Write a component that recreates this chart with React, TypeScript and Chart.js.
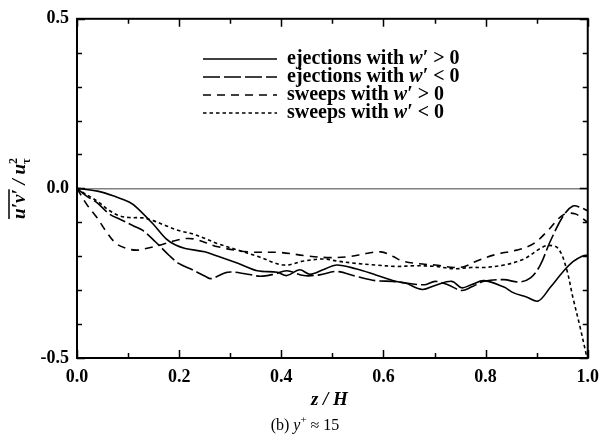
import { useEffect, useRef } from 'react';
import { Chart, registerables } from 'chart.js';

Chart.register(...registerables);

// ejections with w' > 0 (solid)
const zEjPos = [0, 0.04, 0.077, 0.102, 0.116, 0.149, 0.174, 0.193, 0.212, 0.25, 0.276, 0.315, 0.353, 0.392, 0.411, 0.436, 0.456, 0.483, 0.508, 0.546, 0.585, 0.624, 0.643, 0.676, 0.701, 0.734, 0.753, 0.772, 0.797, 0.836, 0.855, 0.88, 0.903, 0.926, 0.952, 0.971, 0.99, 1.0];
const vEjPos = [0, -0.008, -0.025, -0.04, -0.055, -0.105, -0.148, -0.167, -0.177, -0.187, -0.2, -0.221, -0.243, -0.247, -0.257, -0.24, -0.253, -0.239, -0.226, -0.237, -0.255, -0.274, -0.279, -0.298, -0.286, -0.274, -0.293, -0.284, -0.272, -0.291, -0.308, -0.32, -0.332, -0.293, -0.245, -0.216, -0.199, -0.197];

// ejections with w' < 0 (long dash)
const zEjNeg = [0, 0.019, 0.039, 0.064, 0.083, 0.11, 0.129, 0.154, 0.18, 0.199, 0.226, 0.251, 0.263, 0.295, 0.334, 0.359, 0.386, 0.411, 0.444, 0.475, 0.508, 0.546, 0.585, 0.618, 0.643, 0.681, 0.701, 0.726, 0.753, 0.772, 0.797, 0.836, 0.865, 0.888, 0.907, 0.926, 0.952, 0.971, 0.987, 1.0];
const vEjNeg = [0, -0.023, -0.042, -0.076, -0.09, -0.11, -0.124, -0.158, -0.197, -0.221, -0.24, -0.259, -0.266, -0.247, -0.253, -0.259, -0.253, -0.243, -0.257, -0.255, -0.245, -0.259, -0.272, -0.274, -0.279, -0.284, -0.274, -0.284, -0.301, -0.291, -0.274, -0.269, -0.276, -0.264, -0.226, -0.158, -0.081, -0.052, -0.057, -0.066];

// sweeps with w' > 0 (medium dash)
const zSwPos = [0, 0.019, 0.039, 0.058, 0.077, 0.097, 0.116, 0.135, 0.16, 0.187, 0.212, 0.232, 0.276, 0.334, 0.398, 0.45, 0.494, 0.533, 0.566, 0.595, 0.618, 0.637, 0.668, 0.701, 0.739, 0.759, 0.784, 0.822, 0.861, 0.894, 0.919, 0.952, 0.975, 1.0];
const vSwPos = [0, -0.047, -0.086, -0.129, -0.163, -0.177, -0.182, -0.177, -0.168, -0.156, -0.148, -0.15, -0.172, -0.187, -0.189, -0.199, -0.204, -0.201, -0.192, -0.187, -0.2, -0.214, -0.222, -0.226, -0.233, -0.23, -0.213, -0.194, -0.182, -0.163, -0.129, -0.078, -0.075, -0.1];

// sweeps with w' < 0 (dotted)
const zSwNeg = [0, 0.013, 0.039, 0.064, 0.083, 0.102, 0.129, 0.149, 0.174, 0.199, 0.226, 0.251, 0.276, 0.315, 0.353, 0.405, 0.444, 0.483, 0.508, 0.546, 0.585, 0.624, 0.662, 0.701, 0.739, 0.772, 0.797, 0.836, 0.875, 0.907, 0.923, 0.942, 0.958, 0.971, 0.985, 0.998];
const vSwNeg = [0, -0.013, -0.037, -0.066, -0.081, -0.086, -0.087, -0.095, -0.11, -0.124, -0.134, -0.148, -0.163, -0.182, -0.2, -0.226, -0.214, -0.208, -0.214, -0.221, -0.226, -0.23, -0.228, -0.23, -0.237, -0.233, -0.233, -0.226, -0.208, -0.177, -0.168, -0.177, -0.235, -0.322, -0.409, -0.496];

const legendPrefix = ['ejections with ', 'ejections with ', 'sweeps with ', 'sweeps with '];
const legendSign = [' > 0', ' < 0', ' > 0', ' < 0'];
const dashes: number[][] = [[], [17, 4], [8, 6], [3.5, 3]];

const xTitle = 'z / H';
const subtitleParts = ['(b) ', 'y', '+', ' ≈ 15'];

const SERIF = '"Liberation Serif", "Times New Roman", serif';

function toPoints(zs: number[], vs: number[]) {
  return zs.map((z, i) => ({ x: z, y: vs[i] }));
}

const decorPlugin = {
  id: 'decor',
  afterDatasetsDraw(chart: any) {
    const { ctx, chartArea: a, scales } = chart;
    const x = scales.x;
    const y = scales.y;
    ctx.save();
    // frame
    ctx.strokeStyle = '#000';
    ctx.lineWidth = 2;
    ctx.setLineDash([]);
    ctx.strokeRect(a.left, a.top, a.right - a.left, a.bottom - a.top);
    // inward ticks
    ctx.lineWidth = 1.5;
    ctx.beginPath();
    x.ticks.forEach((t: any) => {
      const px = Math.round(x.getPixelForValue(t.value)) + 0.5;
      const major = Math.round(t.value * 10) % 2 === 0;
      const len = major ? 8 : 5;
      ctx.moveTo(px, a.bottom);
      ctx.lineTo(px, a.bottom - len);
      ctx.moveTo(px, a.top);
      ctx.lineTo(px, a.top + len);
    });
    y.ticks.forEach((t: any) => {
      const py = Math.round(y.getPixelForValue(t.value)) + 0.5;
      const major = Math.round(t.value * 10) % 5 === 0;
      const len = major ? 8 : 5;
      ctx.moveTo(a.left, py);
      ctx.lineTo(a.left + len, py);
      ctx.moveTo(a.right, py);
      ctx.lineTo(a.right - len, py);
    });
    ctx.stroke();

    // legend
    const rowY = [59, 77, 95, 113];
    chart.data.datasets.forEach((ds: any, i: number) => {
      const yy = rowY[i];
      ctx.save();
      ctx.strokeStyle = ds.borderColor;
      ctx.lineWidth = ds.borderWidth;
      ctx.setLineDash(ds.borderDash || []);
      ctx.beginPath();
      ctx.moveTo(203, yy);
      ctx.lineTo(277, yy);
      ctx.stroke();
      ctx.restore();
      ctx.fillStyle = '#000';
      ctx.textBaseline = 'middle';
      ctx.textAlign = 'left';
      let xx = 287;
      const runs: [string, string][] = [
        [legendPrefix[i], `bold 20px ${SERIF}`],
        ['w′', `italic bold 20px ${SERIF}`],
        [legendSign[i], `bold 20px ${SERIF}`],
      ];
      runs.forEach(([t, f]) => {
        ctx.font = f;
        ctx.fillText(t, xx, yy);
        xx += ctx.measureText(t).width;
      });
    });

    // x title
    ctx.font = `italic bold 19px ${SERIF}`;
    ctx.textAlign = 'center';
    ctx.textBaseline = 'alphabetic';
    ctx.fillText(xTitle, (a.left + a.right) / 2 - 3, 405);

    // subtitle
    {
      const runs: [string, string, number][] = [
        [subtitleParts[0], `16px ${SERIF}`, 0],
        [subtitleParts[1], `italic 16px ${SERIF}`, 0],
        [subtitleParts[2], `11px ${SERIF}`, -7],
        [subtitleParts[3], `16px ${SERIF}`, 0],
      ];
      let w = 0;
      runs.forEach(([t, f]) => { ctx.font = f; w += ctx.measureText(t).width; });
      let xx = 305 - w / 2;
      ctx.textAlign = 'left';
      runs.forEach(([t, f, dy]) => {
        ctx.font = f;
        ctx.fillText(t, xx, 430 + dy);
        xx += ctx.measureText(t).width;
      });
    }

    // y title (rotated)
    {
      ctx.save();
      ctx.translate(20, (a.top + a.bottom) / 2);
      ctx.rotate(-Math.PI / 2);
      ctx.textAlign = 'left';
      ctx.textBaseline = 'alphabetic';
      const big = `italic bold 19px ${SERIF}`;
      const small = `bold 12px ${SERIF}`;
      ctx.font = big;
      const w1 = ctx.measureText('u′v′').width;
      const w2 = ctx.measureText(' / u').width;
      ctx.font = small;
      const w3 = Math.max(ctx.measureText('τ').width, ctx.measureText('2').width);
      const total = w1 + w2 + w3;
      let xx = -total / 2;
      ctx.font = big;
      ctx.fillText('u′v′', xx, 5);
      ctx.lineWidth = 1.5;
      ctx.beginPath();
      ctx.moveTo(xx, -11);
      ctx.lineTo(xx + w1, -11);
      ctx.stroke();
      xx += w1;
      ctx.fillText(' / u', xx, 5);
      xx += w2;
      ctx.font = small;
      ctx.fillText('2', xx, -3);
      ctx.fillText('τ', xx, 10);
      ctx.restore();
    }
    ctx.restore();
  },
};

export default function App() {
  const ref = useRef<HTMLCanvasElement | null>(null);
  useEffect(() => {
    if (!ref.current) return;
    const mk = (label: string, zs: number[], vs: number[], dash: number[]) => ({
      label,
      data: toPoints(zs, vs),
      borderColor: '#000',
      backgroundColor: '#000',
      borderWidth: 1.6,
      borderDash: dash,
      pointRadius: 0,
      tension: 0.35,
      fill: false,
    });
    const chart = new Chart(ref.current, {
      type: 'line',
      data: {
        datasets: [
          mk(legendPrefix[0] + 'w′' + legendSign[0], zEjPos, vEjPos, dashes[0]),
          mk(legendPrefix[1] + 'w′' + legendSign[1], zEjNeg, vEjNeg, dashes[1]),
          mk(legendPrefix[2] + 'w′' + legendSign[2], zSwPos, vSwPos, dashes[2]),
          mk(legendPrefix[3] + 'w′' + legendSign[3], zSwNeg, vSwNeg, dashes[3]),
        ],
      },
      options: {
        animation: false,
        responsive: false,
        devicePixelRatio: 1,
        layout: { padding: { left: 0, top: 13, right: 13, bottom: 0 } },
        plugins: {
          legend: { display: false },
          tooltip: { enabled: false },
          title: { display: false },
        },
        scales: {
          x: {
            type: 'linear',
            min: 0,
            max: 1,
            border: { display: false },
            grid: { display: false, drawTicks: false },
            ticks: {
              stepSize: 0.1,
              autoSkip: false,
              maxRotation: 0,
              padding: 9,
              color: '#000',
              font: { family: SERIF, size: 18, weight: 'bold' },
              callback: (v: any) => (Math.round(Number(v) * 10) % 2 === 0 ? Number(v).toFixed(1) : ''),
            },
            afterFit: (s: any) => { s.height = 83; },
          },
          y: {
            type: 'linear',
            min: -0.5,
            max: 0.5,
            border: { display: false },
            grid: {
              drawTicks: false,
              lineWidth: 1.5,
              color: (c: any) => (c.tick && Math.abs(c.tick.value) < 1e-9 ? '#808080' : 'rgba(0,0,0,0)'),
            },
            ticks: {
              stepSize: 0.1,
              autoSkip: false,
              padding: 8,
              color: '#000',
              font: { family: SERIF, size: 18, weight: 'bold' },
              callback: (v: any) => (Math.round(Number(v) * 10) % 5 === 0 ? Number(v).toFixed(1) : ''),
            },
            afterFit: (s: any) => { s.width = 77; },
          },
        },
      },
      plugins: [decorPlugin],
    } as any);
    return () => chart.destroy();
  }, []);
  return (
    <div style={{ position: 'absolute', left: 0, top: 0, width: 608, height: 441, background: '#fff' }}>
      <canvas ref={ref} width={608} height={441} style={{ display: 'block' }} />
    </div>
  );
}
